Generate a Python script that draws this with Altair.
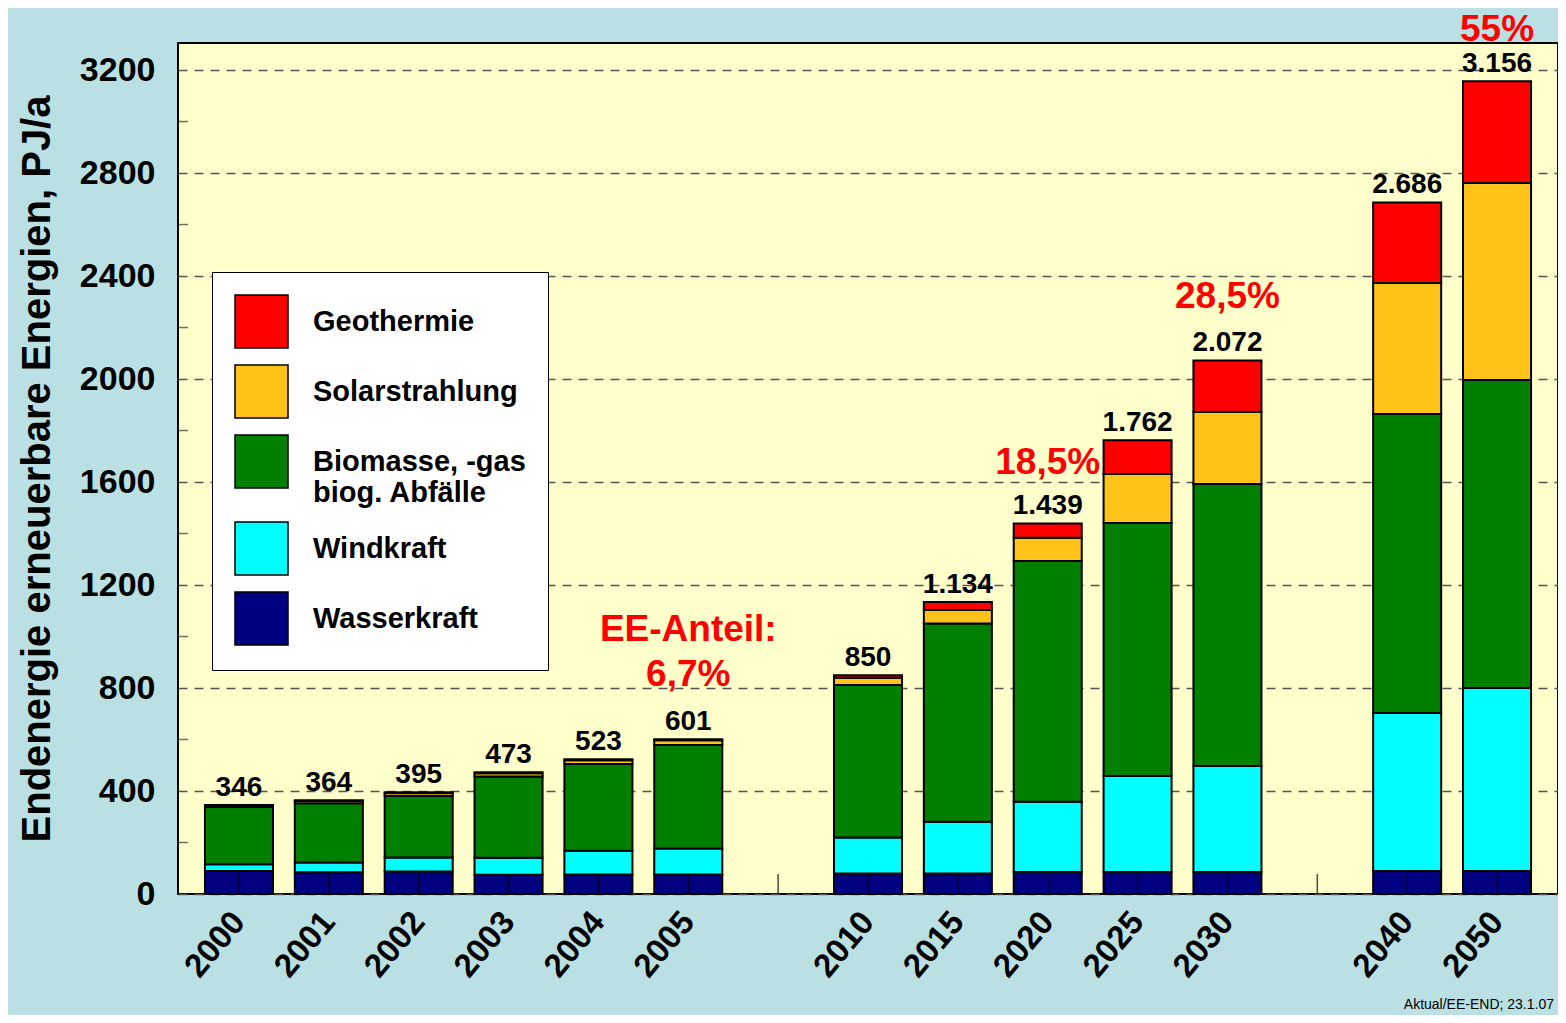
import altair as alt
import pandas as pd

# ---- data ----
slots = ["2000", "2001", "2002", "2003", "2004", "2005", " ",
         "2010", "2015", "2020", "2025", "2030", "  ", "2040", "2050"]
years = ["2000", "2001", "2002", "2003", "2004", "2005",
         "2010", "2015", "2020", "2025", "2030", "2040", "2050"]
wasser = [89, 84, 87, 75, 76, 76, 80, 80, 85, 85, 85, 89, 89]
wind = [27, 38, 55, 66, 92, 101, 139, 201, 273, 373, 412, 614, 711]
biomasse = [222, 230, 240, 315, 337, 402, 593, 770, 935, 983, 1095, 1161, 1196]
solar = [6, 9, 10, 13, 14, 18, 28, 52, 91, 190, 280, 509, 765]
geo = [2, 3, 3, 4, 4, 4, 10, 31, 55, 131, 200, 313, 395]
total_labels = ["346", "364", "395", "473", "523", "601",
                "850", "1.134", "1.439", "1.762", "2.072", "2.686", "3.156"]

sources = ["Geothermie", "Solarstrahlung", "Biomasse", "Windkraft", "Wasserkraft"]
colors = ["#FF0000", "#FFC319", "#007F00", "#00FFFF", "#000080"]

ann_years = ["2005", "2005", "2020", "2030", "2050"]
ann_values = [1025, 850, 1674, 2318, 3355]
ann_texts = ["EE-Anteil:", "6,7%", "18,5%", "28,5%", "55%"]

y_ticks = [0, 400, 800, 1200, 1600, 2000, 2400, 2800, 3200]
y_minor = [200, 600, 1000, 1400, 1800, 2200, 2600, 3000]

YTITLE = "Endenergie erneuerbare Energien, PJ/a"
FONT = "Liberation Sans"
W, H = 1380, 851

# ---- tables ----
series = {"Wasserkraft": wasser, "Windkraft": wind, "Biomasse": biomasse,
          "Solarstrahlung": solar, "Geothermie": geo}
rank = {"Wasserkraft": 0, "Windkraft": 1, "Biomasse": 2, "Solarstrahlung": 3, "Geothermie": 4}
rows = []
for i, y in enumerate(years):
    for s, vals in series.items():
        rows.append({"Jahr": y, "Quelle": s, "Wert": vals[i], "Rang": rank[s]})
df = pd.DataFrame(rows)

totals = [wasser[i] + wind[i] + biomasse[i] + solar[i] + geo[i] for i in range(len(years))]
df_tot = pd.DataFrame({"Jahr": years, "Summe": totals, "Label": total_labels})
df_ann = pd.DataFrame({"Jahr": ann_years, "Wert": ann_values, "Text": ann_texts})
df_slots = pd.DataFrame({"Jahr": slots})
df_minor = pd.DataFrame({"Wert": y_minor})
df_foot = pd.DataFrame({"t": ["Aktual/EE-END; 23.1.07"]})

xscale = alt.Scale(domain=slots, paddingInner=0.243, paddingOuter=0.3)

bars = alt.Chart(df).mark_bar(stroke="black", strokeWidth=2).encode(
    x=alt.X("Jahr:N", scale=xscale, sort=slots,
            axis=alt.Axis(title=None, labelAngle=-50, labelAlign="right",
                          labelBaseline="middle", labelPadding=22, ticks=False,
                          domain=False, labelFont=FONT, labelFontSize=33,
                          labelFontWeight="bold", labelColor="black")),
    y=alt.Y("Wert:Q", stack="zero",
            scale=alt.Scale(domain=[0, 3305], nice=False, zero=True),
            axis=alt.Axis(title=YTITLE, values=y_ticks, format="d", grid=True,
                          gridColor="#555555", gridDash=[9, 7], gridWidth=1.5,
                          ticks=False, domain=False,
                          labelPadding=23, labelFont=FONT, labelFontSize=34,
                          labelFontWeight="bold", labelColor="black",
                          titleFont=FONT, titleFontSize=40, titleFontWeight="bold",
                          titleColor="black", titlePadding=22)),
    color=alt.Color("Quelle:N", scale=alt.Scale(domain=sources, range=colors),
                    legend=alt.Legend(title=None, orient="none", legendX=34, legendY=229,
                                      fillColor="white", strokeColor="black", padding=22,
                                      symbolType="square", symbolSize=2809,
                                      symbolStrokeColor="black", symbolStrokeWidth=1.5,
                                      labelFont=FONT, labelFontSize=29, labelFontWeight="bold",
                                      labelColor="black", labelOffset=24, rowPadding=11,
                                      labelLimit=400,
                                      labelExpr="datum.label == 'Biomasse' ? ['Biomasse, -gas', 'biog. Abfälle'] : datum.label")),
    order=alt.Order("Rang:Q", sort="ascending"),
)

xticks = alt.Chart(df_slots).mark_tick(orient="vertical", color="black", thickness=1.5, size=20).encode(
    x=alt.X("Jahr:N", scale=xscale, sort=slots),
    y=alt.value(H - 10),
)

yminor = alt.Chart(df_minor).mark_tick(orient="horizontal", color="#333333", thickness=1.5, size=10).encode(
    y=alt.Y("Wert:Q", title=YTITLE),
    x=alt.value(5),
)

tot_text = alt.Chart(df_tot).mark_text(font=FONT, fontSize=28, fontWeight="bold",
                                       color="black", baseline="alphabetic", dy=-9).encode(
    x=alt.X("Jahr:N", scale=xscale, sort=slots),
    y=alt.Y("Summe:Q", title=YTITLE),
    text="Label:N",
)

ann_text = alt.Chart(df_ann).mark_text(font=FONT, fontSize=37, fontWeight="bold",
                                       color="#FF0000", baseline="middle").encode(
    x=alt.X("Jahr:N", scale=xscale, sort=slots),
    y=alt.Y("Wert:Q", title=YTITLE),
    text="Text:N",
)

foot = alt.Chart(df_foot).mark_text(font=FONT, fontSize=14, color="black",
                                    align="right", baseline="bottom").encode(
    x=alt.value(W - 4), y=alt.value(H + 118), text="t:N")

chart = alt.layer(bars, xticks, yminor, tot_text, ann_text, foot).properties(
    width=W, height=H,
    title=alt.TitleParams("- LEITSZENARIO 2006 -", font=FONT, fontSize=30, fontWeight="bold",
                          color="black", anchor="middle", offset=24, dx=-48),
    autosize=alt.AutoSizeParams(type="none"),
    padding={"left": 170, "top": 35, "right": 0, "bottom": 121},
    background="#BBE0E3",
).configure_view(fill="#FFFFCC", stroke="black", strokeWidth=2)

chart.save("out.html", embed_options={"renderer": "svg", "actions": False})
